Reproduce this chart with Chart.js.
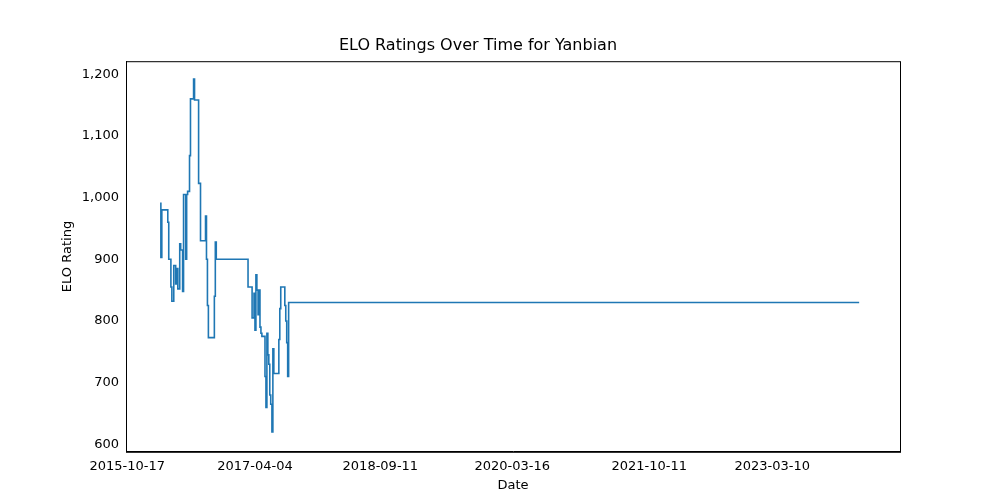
<!DOCTYPE html>
<html>
<head>
<meta charset="utf-8">
<script src="https://cdn.jsdelivr.net/npm/chart.js@4"></script>
<style>
  body { margin: 0; background: #fff; }
  #wrap { width: 1000px; height: 500px; }
</style>
</head>
<body>
<div id="wrap"><canvas id="eloChart"></canvas></div>
<script>
// match dates and rating after each match
const matchDates = [
  '2016-03-06', '2016-03-10', '2016-04-04', '2016-04-08', '2016-04-17', '2016-04-21',
  '2016-04-29', '2016-05-07', '2016-05-11', '2016-05-16', '2016-05-24', '2016-05-28',
  '2016-06-05', '2016-06-09', '2016-06-18', '2016-06-22', '2016-06-26', '2016-07-04',
  '2016-07-08', '2016-07-21', '2016-07-25', '2016-08-11', '2016-08-19', '2016-09-09',
  '2016-09-13', '2016-09-17', '2016-09-21', '2016-10-16', '2016-10-20', '2016-10-24',
  '2017-03-06', '2017-03-23', '2017-03-31', '2017-04-04', '2017-04-08', '2017-04-12',
  '2017-04-17', '2017-04-21', '2017-04-25', '2017-04-29', '2017-05-03', '2017-05-16',
  '2017-05-20', '2017-05-24', '2017-05-28', '2017-06-01', '2017-06-05', '2017-06-09',
  '2017-06-14', '2017-06-18', '2017-06-22', '2017-07-13', '2017-07-17', '2017-07-21',
  '2017-08-07', '2017-08-11', '2017-08-15', '2017-08-19', '2017-08-23', '2024-03-08'
];
const eloRatings = [
  992, 903, 980, 960, 900, 855,
  832, 890, 860, 885, 852, 925,
  915, 848, 1005, 900, 1005, 1010,
  1068, 1160, 1192, 1158, 1023, 930,
  970, 900, 825, 773, 840, 928,
  900, 855, 805, 845, 785, 875,
  850, 810, 850, 790, 780, 775,
  710, 660, 780, 745, 730, 680,
  665, 620, 755, 715, 770, 820,
  855, 825, 800, 765, 710, 830
];
const tickDates = ['2015-10-17', '2017-04-04', '2018-09-11', '2020-03-16', '2021-10-11', '2023-03-10', '2024-08-26'];
const tickLabels = ['2015-10-17', '2017-04-04', '2018-09-11', '2020-03-16', '2021-10-11', '2023-03-10', ''];
const yTicks = [600, 700, 800, 900, 1000, 1100, 1200];

const points = matchDates.map((d, i) => ({ x: Date.parse(d), y: eloRatings[i] }));
const tickValues = tickDates.map(d => Date.parse(d));

new Chart(document.getElementById('eloChart').getContext('2d'), {
  type: 'line',
  data: {
    datasets: [{
      label: 'ELO',
      data: points,
      stepped: 'after',
      borderColor: '#1f77b4',
      borderWidth: 1.6,
      pointRadius: 0,
      fill: false
    }]
  },
  options: {
    responsive: true,
    maintainAspectRatio: false,
    animation: false,
    layout: { padding: { left: 56, right: 100, top: 36, bottom: 7 } },
    plugins: {
      legend: { display: false },
      tooltip: { enabled: false },
      title: {
        display: true,
        text: 'ELO Ratings Over Time for Yanbian',
        color: '#000',
        font: { family: 'DejaVu Sans', size: 16, weight: 'normal' },
        padding: { top: 0, bottom: 6 }
      }
    },
    scales: {
      x: {
        type: 'linear',
        min: Date.parse('2015-10-12'),
        max: Date.parse('2024-08-26'),
        afterBuildTicks: axis => { axis.ticks = tickValues.map(v => ({ value: v })); },
        grid: { display: false, drawTicks: true, tickLength: 4, color: '#000' },
        border: { color: '#000' },
        ticks: {
          color: '#000',
          maxRotation: 0,
          autoSkip: false,
          font: { family: 'DejaVu Sans', size: 13 },
          callback: (v) => { const i = tickValues.indexOf(v); return i >= 0 ? tickLabels[i] : ''; }
        },
        title: { display: true, text: 'Date', color: '#000', font: { family: 'DejaVu Sans', size: 13 }, padding: 0 }
      },
      y: {
        min: 588,
        max: 1221,
        afterBuildTicks: axis => { axis.ticks = yTicks.map(v => ({ value: v })); },
        afterFit: axis => { axis.width = 70; },
        grid: { display: false, drawTicks: true, tickLength: 4, color: '#000' },
        border: { color: '#000' },
        ticks: {
          color: '#000',
          autoSkip: false,
          font: { family: 'DejaVu Sans', size: 13 }
        },
        title: { display: true, text: 'ELO Rating', color: '#000', font: { family: 'DejaVu Sans', size: 13 }, padding: 4 }
      }
    }
  },
  plugins: [{
    id: 'frame',
    afterDraw: chart => {
      const { ctx, chartArea: a } = chart;
      ctx.save();
      ctx.strokeStyle = '#000';
      ctx.lineWidth = 1;
      ctx.strokeRect(a.left + 0.5, a.top + 0.5, a.right - a.left, a.bottom - a.top);
      ctx.restore();
    }
  }]
});
</script>
</body>
</html>
